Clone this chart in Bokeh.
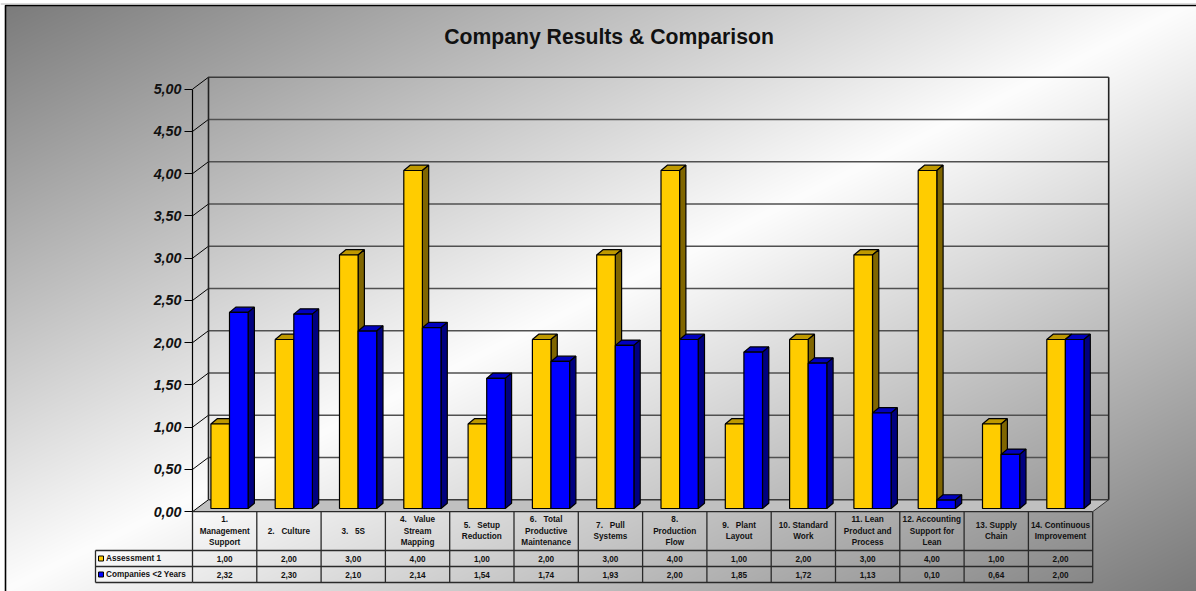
import numpy as np
from bokeh.core.properties import value
from bokeh.embed import file_html
from bokeh.models import FixedTicker, LinearAxis, Range1d
from bokeh.plotting import figure
from bokeh.resources import INLINE

# --- chart content ---
title_text = "Company Results & Comparison"
categories = [
    ["1.", "Management", "Support"], ["2.\u00a0\u00a0 Culture"], ["3.\u00a0\u00a0 5S"],
    ["4.\u00a0\u00a0 Value", "Stream", "Mapping"], ["5.\u00a0\u00a0 Setup", "Reduction"],
    ["6.\u00a0\u00a0 Total", "Productive", "Maintenance"], ["7.\u00a0\u00a0 Pull", "Systems"],
    ["8.", "Production", "Flow"], ["9.\u00a0\u00a0 Plant", "Layout"],
    ["10. Standard", "Work"], ["11. Lean", "Product and", "Process"],
    ["12. Accounting", "Support for", "Lean"], ["13. Supply", "Chain"],
    ["14. Continuous", "Improvement"],
]
series_names = ["Assessment 1", "Companies <2 Years"]
assessment = [1.00, 2.00, 3.00, 4.00, 1.00, 2.00, 3.00, 4.00, 1.00, 2.00, 3.00, 4.00, 1.00, 2.00]
companies = [2.32, 2.30, 2.10, 2.14, 1.54, 1.74, 1.93, 2.00, 1.85, 1.72, 1.13, 0.10, 0.64, 2.00]
y_ticks = [0, 0.5, 1, 1.5, 2, 2.5, 3, 3.5, 4, 4.5, 5]

# --- page geometry (pixels) ---
W, H = 1196, 591
PLOT_X0, CAT_W = 192.0, 64.3
PLOT_Y0, VAL_H = 511.2, 84.5
ROW_Y = [511.2, 550.0, 566.0, 582.0]
LEGEND_X = 95.0
FONT = value("Liberation Sans")
TABLE_FONT_SIZE = "8.2px"


def dx(px):
    """Horizontal pixel distance in category units."""
    return px / CAT_W


def dy(px):
    """Vertical pixel distance in value units."""
    return px / VAL_H


def xpx(px):
    return (px - PLOT_X0) / CAT_W


def ypx(px):
    return (PLOT_Y0 - px) / VAL_H


p = figure(
    width=W, height=H, output_backend="svg", toolbar_location=None,
    x_range=Range1d(xpx(0), xpx(W)), y_range=Range1d(ypx(H), ypx(0)),
    min_border=0, min_border_left=0, min_border_right=0, min_border_top=0, min_border_bottom=0,
    x_axis_type=None, y_axis_type=None, outline_line_color=None,
    background_fill_color="white", border_fill_color="white",
)
p.xgrid.visible = False
p.ygrid.visible = False

# Diagonal backdrop: dark corners with a light band between them
yy, xx = np.mgrid[0:H, 0:W]
t = (xx / W + yy / H) / 2  # 0 at top-left, 1 at bottom-right
shade = 1 - np.abs(2 * t - 1)
grey = (122 + 131 * shade).astype(np.uint32)
rgba = grey | (grey << 8) | (grey << 16) | (255 << 24)
rgba = rgba[::-1]
left, top = 5, 5
p.image_rgba(image=[rgba[:H - top, left:]], x=xpx(left), y=ypx(H), dw=xpx(W) - xpx(left), dh=ypx(top) - ypx(H))

# Chart-area frame
p.line([xpx(W), xpx(5), xpx(5)], [ypx(5), ypx(5), ypx(H)], line_color="black", line_width=1.6)
p.line([xpx(0), xpx(W)], [ypx(3.5), ypx(3.5)], line_color="#b8b8b8", line_width=1)

# 3D box: depth of the walls and floor
DEPTH_X, DEPTH_Y = dx(16), dy(12)
n = len(categories)
p.patch([0, n, n + DEPTH_X, DEPTH_X], [0, 0, DEPTH_Y, DEPTH_Y], fill_color="#c0c0c0", line_color=None)
for v in y_ticks:
    p.line([DEPTH_X, n + DEPTH_X], [v + DEPTH_Y, v + DEPTH_Y],
           line_color="#3a3a3a" if v in (0, 5) else "#505050", line_width=1.6)
    p.line([0, DEPTH_X], [v, v + DEPTH_Y], line_color="black", line_width=1)
p.line([DEPTH_X, DEPTH_X], [DEPTH_Y, 5 + DEPTH_Y], line_color="#222222", line_width=1.6)
p.line([n + DEPTH_X, n + DEPTH_X], [DEPTH_Y, 5 + DEPTH_Y], line_color="#222222", line_width=1.6)
p.line([n, n + DEPTH_X], [0, DEPTH_Y], line_color="#333333", line_width=1)

# Value axis on the front-left edge of the box
y_axis = LinearAxis(
    fixed_location=0, bounds=(0, 5),
    ticker=FixedTicker(ticks=y_ticks),
    major_label_overrides={v: f"{v:.2f}".replace(".", ",") for v in y_ticks},
    major_tick_in=0, major_tick_out=8, minor_tick_out=0, minor_tick_in=0,
    axis_line_color="black", axis_line_width=1.2,
    major_tick_line_color="black", major_tick_line_width=1.2,
    major_label_text_font="Liberation Sans", major_label_text_font_style="bold italic",
    major_label_text_font_size="14.3px", major_label_text_color="#111111",
    major_label_standoff=3,
)
p.add_layout(y_axis, "left")

# Bars: front face plus shaded top and side
BAR_W = dx(18.6)
BAR_OFF_X, BAR_OFF_Y = dx(18.4), dy(3.2)
BAR_DX, BAR_DY = dx(6.3), dy(5.3)


def draw_bars(values, shift, front, top_col, side):
    xl = [i + BAR_OFF_X + shift for i in range(len(values))]
    xr = [x + BAR_W for x in xl]
    tops = [BAR_OFF_Y + v for v in values]
    p.patches(
        [[x0, x1, x1 + BAR_DX, x0 + BAR_DX] for x0, x1 in zip(xl, xr)],
        [[v, v, v + BAR_DY, v + BAR_DY] for v in tops],
        fill_color=top_col, line_color="black", line_width=1.2,
    )
    p.patches(
        [[x1, x1 + BAR_DX, x1 + BAR_DX, x1] for x1 in xr],
        [[BAR_OFF_Y, BAR_OFF_Y + BAR_DY, v + BAR_DY, v] for v in tops],
        fill_color=side, line_color="black", line_width=1.2,
    )
    p.quad(left=xl, right=xr, bottom=BAR_OFF_Y, top=tops,
           fill_color=front, line_color="black", line_width=1.2)


draw_bars(assessment, 0, "#FFCC00", "#BF9900", "#806600")
draw_bars(companies, BAR_W, "#0000FF", "#0000BF", "#000080")

# Data table under the plot
row_vals = [ypx(r) for r in ROW_Y]
for r in row_vals:
    p.line([0, n], [r, r], line_color="#2a2a2a", line_width=1.3)
for r in row_vals[1:]:
    p.line([xpx(LEGEND_X), 0], [r, r], line_color="#2a2a2a", line_width=1.3)
for i in range(n + 1):
    p.line([i, i], [row_vals[0], row_vals[3]], line_color="#2a2a2a", line_width=1.3)
p.line([xpx(LEGEND_X), xpx(LEGEND_X)], [row_vals[1], row_vals[3]], line_color="#2a2a2a", line_width=1.3)

LINE_H = dy(11.7)
hx, hy, ht = [], [], []
for i, lines in enumerate(categories):
    mid = (row_vals[0] + row_vals[1]) / 2
    for k, line in enumerate(lines):
        hx.append(i + 0.5)
        hy.append(mid + ((len(lines) - 1) / 2 - k) * LINE_H)
        ht.append(line)
p.text(hx, hy, ht, text_font=FONT, text_font_style="bold", text_font_size=TABLE_FONT_SIZE,
       text_align="center", text_baseline="middle", text_color="#111111")

for series, r0, r1 in ((assessment, row_vals[1], row_vals[2]), (companies, row_vals[2], row_vals[3])):
    p.text([i + 0.5 for i in range(n)], [(r0 + r1) / 2] * n,
           [f"{v:.2f}".replace(".", ",") for v in series],
           text_font=FONT, text_font_style="bold", text_font_size=TABLE_FONT_SIZE,
           text_align="center", text_baseline="middle", text_color="#111111")

# Series keys in the table's first column
key_rows = [(row_vals[1] + row_vals[2]) / 2, (row_vals[2] + row_vals[3]) / 2]
key_x = xpx(LEGEND_X + 5.5)
p.rect([key_x] * 2, key_rows, width=dx(5), height=dy(5), fill_color=["#FFCC00", "#0000FF"],
       line_color="black", line_width=1)
p.text([xpx(LEGEND_X + 10.5)] * 2, key_rows, series_names, text_font=FONT, text_font_style="bold",
       text_font_size=TABLE_FONT_SIZE, text_align="left", text_baseline="middle", text_color="#111111")

p.text([xpx(608.5)], [ypx(36)], [title_text], text_font=FONT, text_font_style="bold",
       text_font_size="21.2px", text_align="center", text_baseline="middle", text_color="#111111")

open("out.html", "w").write(file_html(p, INLINE))
